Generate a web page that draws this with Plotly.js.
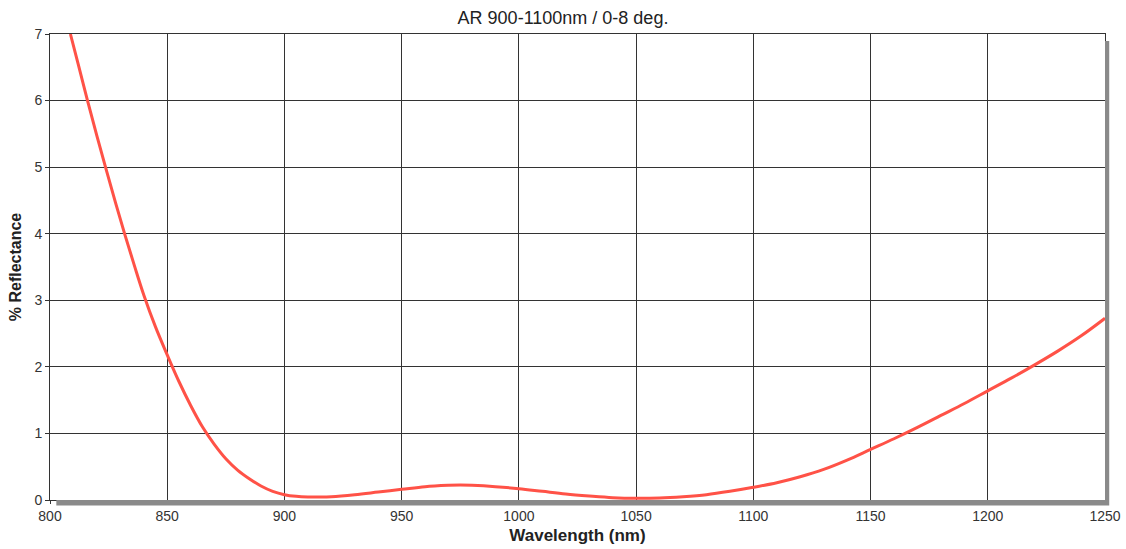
<!DOCTYPE html>
<html>
<head>
<meta charset="utf-8">
<script src="https://cdn.plot.ly/plotly-3.0.1.min.js"></script>
<style>html,body{margin:0;padding:0;background:#fff;}#chart{width:1126px;height:549px;}</style>
</head>
<body>
<div id="chart"></div>
<script>
const wavelength = [808.7, 812, 816, 820, 824, 828, 832, 836, 840, 845, 850, 855, 860, 865, 870, 875, 880, 885, 890, 895, 900, 905, 910, 915, 920, 930, 940, 950, 960, 970, 975, 980, 990, 1000, 1010, 1020, 1030, 1040, 1050, 1060, 1070, 1080, 1090, 1100, 1110, 1120, 1130, 1140, 1150, 1160, 1170, 1180, 1190, 1200, 1210, 1220, 1230, 1240, 1250];
const reflectance = [7.0, 6.55, 6.0, 5.47, 4.96, 4.46, 3.98, 3.52, 3.08, 2.6, 2.18, 1.78, 1.42, 1.1, 0.84, 0.62, 0.45, 0.32, 0.21, 0.13, 0.08, 0.055, 0.045, 0.045, 0.05, 0.08, 0.12, 0.16, 0.2, 0.22, 0.225, 0.22, 0.2, 0.17, 0.13, 0.09, 0.06, 0.035, 0.025, 0.03, 0.05, 0.08, 0.13, 0.19, 0.26, 0.35, 0.46, 0.6, 0.76, 0.92, 1.09, 1.27, 1.45, 1.64, 1.83, 2.03, 2.24, 2.47, 2.73];
const xTicks = [800, 850, 900, 950, 1000, 1050, 1100, 1150, 1200, 1250];
const yTicks = [0, 1, 2, 3, 4, 5, 6, 7];

const font = 'Liberation Sans, Arial, sans-serif';
Plotly.newPlot('chart', [{
  x: wavelength, y: reflectance, type: 'scatter', mode: 'lines',
  line: {color: '#ff5247', width: 3, shape: 'spline', smoothing: 1},
  hoverinfo: 'x+y'
}], {
  width: 1126, height: 549,
  margin: {l: 50, r: 21, t: 34, b: 49},
  paper_bgcolor: '#fff', plot_bgcolor: '#fff',
  showlegend: false,
  title: {text: 'AR 900-1100nm / 0-8 deg.', font: {family: font, size: 18, color: '#222'}, x: 0.5, xanchor: 'center', y: 0.967, yanchor: 'middle'},
  xaxis: {
    range: [800, 1250], tickvals: xTicks, ticktext: xTicks.map(String),
    showgrid: true, gridcolor: '#333', gridwidth: 1,
    showline: true, linecolor: '#333', linewidth: 1, mirror: true,
    ticks: 'outside', ticklen: 3, tickcolor: '#333',
    zeroline: false,
    tickfont: {family: font, size: 14, color: '#333'},
    title: {text: '<b>Wavelength (nm)</b>', font: {family: font, size: 17, color: '#222'}, standoff: 6}
  },
  yaxis: {
    range: [0, 7], tickvals: yTicks, ticktext: yTicks.map(String),
    showgrid: true, gridcolor: '#333', gridwidth: 1,
    showline: true, linecolor: '#333', linewidth: 1, mirror: true,
    ticks: 'outside', ticklen: 4, tickcolor: '#333',
    zeroline: false,
    tickfont: {family: font, size: 14, color: '#333'},
    title: {text: '<b>% Reflectance</b>', font: {family: font, size: 16, color: '#222'}, standoff: 8}
  },
  shapes: [
    {type: 'rect', xref: 'paper', yref: 'paper', x0: 0.006, x1: 1.0, y0: -0.012, y1: 0, fillcolor: '#8a8a8a', line: {width: 0}, layer: 'above'},
    {type: 'rect', xref: 'paper', yref: 'paper', x0: 1.0, x1: 1.004, y0: -0.012, y1: 0.985, fillcolor: '#8a8a8a', line: {width: 0}, layer: 'above'}
  ]
}, {displayModeBar: false, staticPlot: true});
</script>
</body>
</html>
